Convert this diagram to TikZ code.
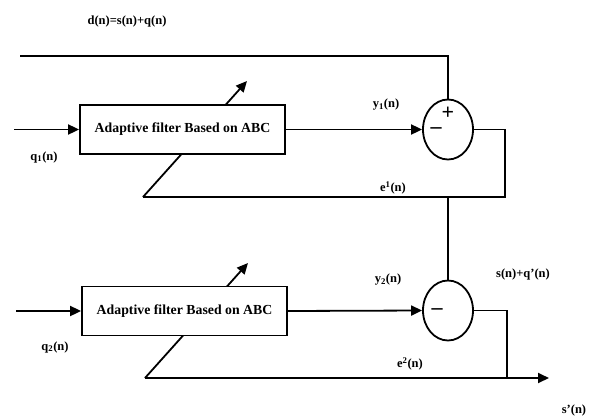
\documentclass[tikz,border=0pt]{standalone}
\usepackage{fontspec}
\setmainfont{Liberation Serif}
\usetikzlibrary{arrows.meta,shapes.geometric}
\tikzset{
  wire/.style={line width=1.8pt},
  arr/.style={wire,-{Triangle[length=11pt,width=10pt]}},
  filterbox/.style={draw,line width=1.8pt,fill=white,minimum width=205pt,minimum height=49pt,inner sep=0pt,font=\fontsize{13.8}{15}\selectfont\bfseries},
  sumnode/.style={draw,ellipse,line width=1.8pt,minimum width=50pt,minimum height=60pt,inner sep=0pt},
  sign/.style={font=\fontsize{22}{22}\selectfont\bfseries,inner sep=0pt},
  lbl/.style={font=\fontsize{12.5}{14}\selectfont\bfseries,inner sep=0pt}
}
\begin{document}
\begin{tikzpicture}[x=1pt,y={(0pt,-1pt)}]
\useasboundingbox (0,0) rectangle (595,416);
% adjustment lines (drawn first, boxes cover them)
\coordinate (e1l) at (143,197);
\coordinate (t1) at (247,81);
\coordinate (e2l) at (145,378);
\coordinate (t2) at (248,263);
\draw[arr] (e1l) -- (t1);
\draw[arr] (e2l) -- (t2);
% blocks
\node[filterbox] (b1) at (182.5,129.5) {Adaptive filter Based on ABC};
\node[filterbox] (b2) at (184.5,311) {Adaptive filter Based on ABC};
\node[sumnode] (c1) at (448,129.5) {};
\node[sumnode] (c2) at (448,310.5) {};
% signs
\node[sign] (p1) at (448,113) {+};
\node[sign] (m1) at (436,131) {--};
\node[sign] (m2) at (437,312) {--};
% inputs
\coordinate (in1) at (14,129.5);
\coordinate (in2) at (16,311);
\draw[arr] (in1) -- (b1.west);
\draw[arr] (in2) -- (b2.west);
\draw[arr] (b1.east) -- (c1.west);
\draw[arr] (b2.east) -- (c2.west);
% desired signal
\coordinate (d0) at (20,56);
\draw[wire] (d0) -| (c1.north);
% error 1 loop
\coordinate (k1) at (505,197);
\draw[wire] (c1.east) -| (k1) -- (e1l);
\coordinate (j1) at (c2.north |- k1);
\draw[wire] (j1) -- (c2.north);
% error 2 / output
\coordinate (k2) at (507,378);
\coordinate (out) at (549,378);
\draw[wire] (c2.east) -| (k2);
\draw[arr] (e2l) -- (out);
% labels
\node[lbl] (ld) at (127,21) {d(n)=s(n)+q(n)};
\node[lbl] (lq1) at (44,157) {q\textsubscript{1}(n)};
\node[lbl] (ly1) at (386,105) {y\textsubscript{1}(n)};
\node[lbl] (le1) at (393,188) {e\textsuperscript{1}(n)};
\node[lbl] (lq2) at (55,347) {q\textsubscript{2}(n)};
\node[lbl] (ly2) at (388,280) {y\textsubscript{2}(n)};
\node[lbl] (ls) at (523,274) {s(n)+q'(n)};
\node[lbl] (le2) at (410,364) {e\textsuperscript{2}(n)};
\node[lbl] (lso) at (574,410) {s'(n)};
\end{tikzpicture}
\end{document}
